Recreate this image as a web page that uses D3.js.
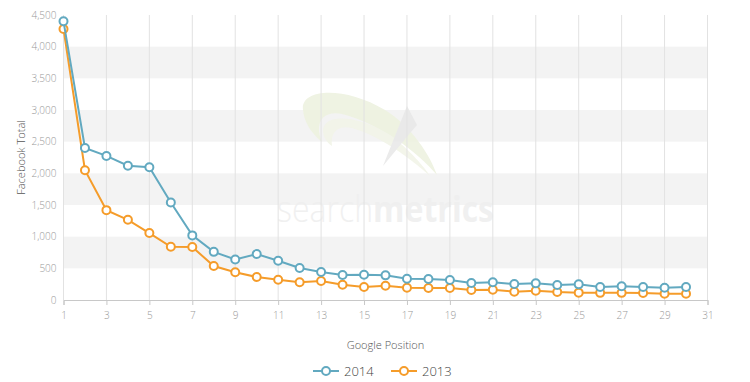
<!DOCTYPE html>
<html><head>
<meta charset="utf-8">
<script src="https://d3js.org/d3.v7.min.js"></script>
<style>
  body { margin: 0; background: #fff; }
  text { font-family: "Open Sans", Lato, sans-serif; }
  .tick text { fill: #999; font-size: 10px; font-weight: 300; }
  .axis-title { fill: #555; font-size: 11px; font-weight: 300; }
  .legend text { fill: #444; font-size: 13px; font-weight: 300; }
</style>
</head>
<body>
<svg id="chart" width="750" height="382"></svg>
<script>
  // Google position 1..30
  const positions = d3.range(1, 31);
  const fb2014 = [4400, 2400, 2275, 2120, 2095, 1540, 1020, 760, 640, 725,
                  620, 505, 442, 396, 398, 389, 336, 331, 315, 268,
                  279, 252, 263, 237, 247, 205, 216, 205, 194, 205];
  const fb2013 = [4280, 2050, 1419, 1266, 1057, 841, 836, 536, 437, 363,
                  320, 279, 300, 242, 205, 226, 194, 189, 189, 158,
                  163, 131, 147, 126, 116, 113, 113, 110, 100, 100];
  const xTicks = d3.range(1, 32, 2);
  const yTicks = d3.range(0, 4501, 500);
  const seriesNames = ["2014", "2013"];
  const seriesColors = ["#62a9c0", "#f59c2a"];

  const svg = d3.select("#chart");
  const plotLeft = 63.5, plotRight = 707.5, plotTop = 15, plotBottom = 300;

  const x = d3.scaleLinear().domain([1, 31]).range([plotLeft, plotRight]);
  const y = d3.scaleLinear().domain([0, 4500]).range([plotBottom, plotTop]);

  // alternating bands
  const bands = yTicks.slice(0, -1).filter((d, i) => i % 2 == 1);
  svg.append("g").selectAll("rect").data(bands).join("rect")
     .attr("x", plotLeft).attr("width", plotRight - plotLeft)
     .attr("y", d => y(d + 500)).attr("height", d => y(d) - y(d + 500))
     .attr("fill", "#f3f3f3");

  // watermark (logo + wordmark)
  const wm = svg.append("g").attr("opacity", 0.9);
  wm.append("path")
    .attr("d", "M303,110 C300,88 345,86 385,110 C412,127 430,155 437,175 C418,152 380,124 342,114 C322,110 314,124 322,142 C310,132 304,121 303,110 Z")
    .attr("fill", "#eef2e0");
  wm.append("path")
    .attr("d", "M323,130 C325,112 360,116 390,135 C410,150 425,168 430,176 C410,158 380,136 352,128 C338,125 330,132 332,146 C326,142 323,136 323,130 Z")
    .attr("fill", "#f2f5e8");
  wm.append("path")
    .attr("d", "M383,166 L407,106 L417,125 L410,133 Z")
    .attr("fill", "#e9e9e9");
  const word = wm.append("text").attr("transform", "translate(277,222) scale(0.89,1)")
    .attr("font-size", 36).attr("fill", "#efefef");
  word.append("tspan").attr("font-weight", 300).text("search");
  word.append("tspan").attr("font-weight", 700).text("metrics");

  // vertical grid
  svg.append("g").selectAll("line").data(xTicks).join("line")
     .attr("x1", d => x(d)).attr("x2", d => x(d))
     .attr("y1", plotTop).attr("y2", plotBottom)
     .attr("stroke", "#e2e2e2").attr("stroke-width", 1);

  // x axis
  const xAxis = svg.append("g").attr("transform", `translate(0,${plotBottom})`)
     .call(d3.axisBottom(x).tickValues(xTicks).tickSize(5).tickPadding(7));
  xAxis.select(".domain").attr("stroke", "#c8c8c8");
  xAxis.selectAll(".tick line").attr("stroke", "#c8c8c8");

  // y axis
  const yAxis = svg.append("g").attr("transform", `translate(${plotLeft - 7},0)`)
     .call(d3.axisLeft(y).tickValues(yTicks).tickSize(0).tickPadding(0)
             .tickFormat(d3.format(",")));
  yAxis.select(".domain").remove();

  svg.append("text").attr("class", "axis-title")
     .attr("x", (plotLeft + plotRight) / 2).attr("y", 349).attr("text-anchor", "middle")
     .text("Google Position");
  svg.append("text").attr("class", "axis-title")
     .attr("transform", `translate(25,${(plotTop + plotBottom) / 2}) rotate(-90)`)
     .attr("text-anchor", "middle")
     .text("Facebook Total");

  // series (2013 drawn first, 2014 on top)
  const series = [fb2014, fb2013];
  const line = d3.line().x((d, i) => x(positions[i])).y(d => y(d));
  [1, 0].forEach(idx => {
    const vals = series[idx];
    const g = svg.append("g");
    g.append("path").datum(vals).attr("d", line)
     .attr("fill", "none").attr("stroke", seriesColors[idx]).attr("stroke-width", 2);
    g.selectAll("circle").data(vals).join("circle")
     .attr("cx", (d, i) => x(positions[i])).attr("cy", d => y(d)).attr("r", 4)
     .attr("fill", "#fff").attr("stroke", seriesColors[idx]).attr("stroke-width", 2);
  });

  // legend
  const legend = svg.append("g").attr("class", "legend");
  const legendX = [313, 391];
  seriesNames.forEach((name, i) => {
    const g = legend.append("g").attr("transform", `translate(${legendX[i]},371)`);
    g.append("line").attr("x1", 0).attr("x2", 26).attr("stroke", seriesColors[i]).attr("stroke-width", 2);
    g.append("circle").attr("cx", 13).attr("r", 4).attr("fill", "#fff")
     .attr("stroke", seriesColors[i]).attr("stroke-width", 2);
    g.append("text").attr("x", 31).attr("y", 5).text(name);
  });
</script>
</body></html>
